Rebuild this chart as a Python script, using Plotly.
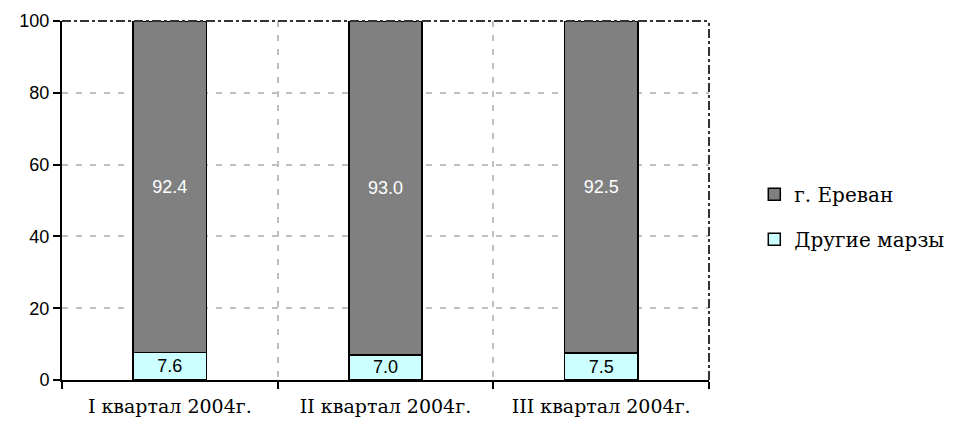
"""Stacked share chart: Yerevan vs other marzes, quarters of 2004."""

import plotly.graph_objects as go

quarters = ["I квартал 2004г.", "II квартал 2004г.", "III квартал 2004г."]
other_marzes = [7.6, 7.0, 7.5]
yerevan = [92.4, 93.0, 92.5]
y_ticks = [0, 20, 40, 60, 80, 100]

SANS = "Liberation Sans, Arial, sans-serif"
SERIF = "DejaVu Serif, serif"

fig = go.Figure()
fig.add_trace(go.Bar(
    x=quarters, y=other_marzes, name="Другие марзы",
    legendgroup="other", legendrank=2,
    marker=dict(color="#CCFFFF", line=dict(color="black", width=1.5)),
    text=[f"{v:.1f}" for v in other_marzes], textposition="inside",
    insidetextanchor="middle", constraintext="none",
    textfont=dict(family=SANS, size=18, color="black"),
))
fig.add_trace(go.Bar(
    x=quarters, y=yerevan, name="г. Ереван",
    legendgroup="yerevan", legendrank=1,
    marker=dict(color="#808080", line=dict(color="black", width=1.5)),
    text=[f"{v:.1f}" for v in yerevan], textposition="inside",
    insidetextanchor="middle", constraintext="none",
    textfont=dict(family=SANS, size=18, color="white"),
))

fig.update_layout(
    width=965, height=421,
    margin=dict(l=54, r=264, t=13, b=49),
    barmode="stack", bargap=0.66,
    plot_bgcolor="white", paper_bgcolor="white",
    showlegend=True,
    legend=dict(x=1.07, y=0.455, xanchor="left", yanchor="middle",
                font=dict(family=SERIF, size=20, color="black"),
                traceorder="grouped", itemwidth=30, tracegroupgap=16),
)
fig.update_xaxes(
    tickson="boundaries", ticks="outside", ticklen=7, tickcolor="black", tickwidth=2,
    showgrid=True, gridcolor="#C0C0C0", griddash="6px,8px", gridwidth=2,
    showline=True, linecolor="black", linewidth=2, automargin=False,
    tickfont=dict(family=SERIF, size=19, color="black"), ticklabelstandoff=8,
)
fig.update_yaxes(
    range=[0, 100], tickvals=y_ticks, ticks="outside", ticklen=7,
    tickcolor="black", tickwidth=2,
    showgrid=True, gridcolor="#C0C0C0", griddash="6px,8px", gridwidth=2,
    showline=True, linecolor="black", linewidth=2, zeroline=False, automargin=False,
    tickfont=dict(family=SANS, size=18, color="black"),
)

# dash-dot frame on top and right of the plot area
fig.add_shape(type="line", xref="paper", yref="paper", x0=0, x1=1, y0=1, y1=1,
              line=dict(color="#333333", width=2, dash="dashdot"), layer="above")
fig.add_shape(type="line", xref="paper", yref="paper", x0=1, x1=1, y0=0, y1=1,
              line=dict(color="#333333", width=2, dash="dashdot"), layer="above")

fig.write_html("out.html")
